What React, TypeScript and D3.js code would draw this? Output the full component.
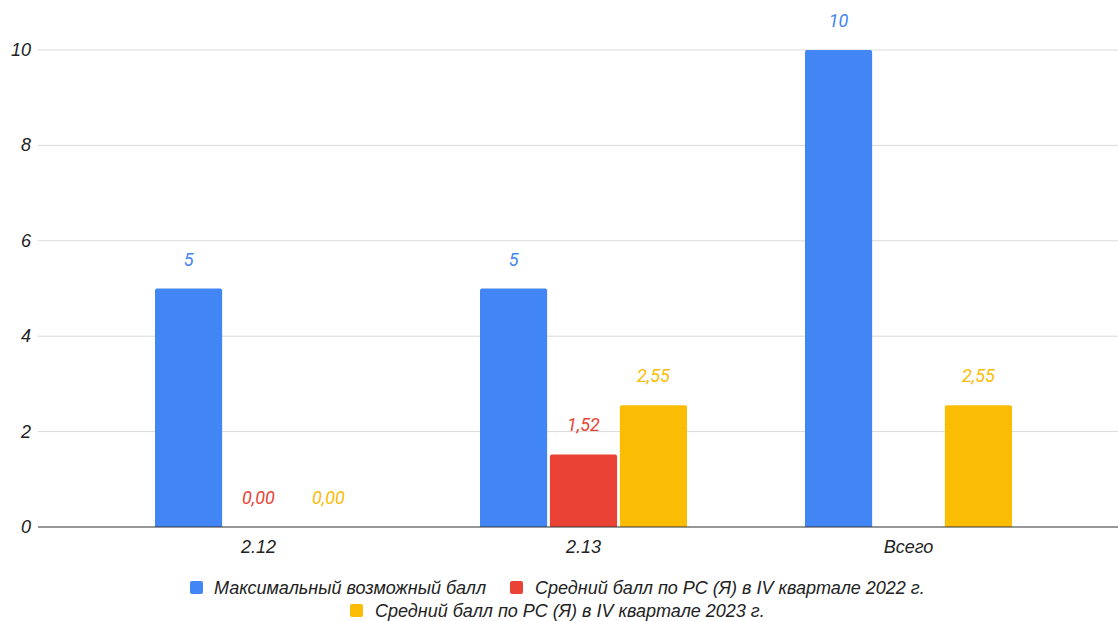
import React from "react";
import * as d3 from "d3";

const categories = ["2.12", "2.13", "Всего"];
const seriesNames = [
  "Максимальный возможный балл",
  "Средний балл по РС (Я) в IV квартале 2022 г.",
  "Средний балл по РС (Я) в IV квартале 2023 г.",
];
const maxScore = [5, 5, 10];
const avg2022: (number | null)[] = [0, 1.52, null];
const avg2023: (number | null)[] = [0, 2.55, 2.55];
const labels2022 = ["0,00", "1,52", ""];
const labels2023 = ["0,00", "2,55", "2,55"];
const labelsMax = ["5", "5", "10"];
const yTicks = [0, 2, 4, 6, 8, 10];
const colors = ["#4285F4", "#EA4335", "#FBBC04"];

const W = 1118;
const H = 621;
const FONT = "Roboto, 'Noto Sans', sans-serif";
const FONT2 = "'Liberation Sans', Arial, sans-serif";
const FS = 18;

export default function App() {
  const y = d3.scaleLinear().domain([0, 10]).range([527, 50]);
  const x0 = d3.scaleBand<string>().domain(categories).range([96, 1071]).padding(0);
  const x1 = d3
    .scaleBand<number>()
    .domain([0, 1, 2])
    .range([59, 266])
    .paddingInner(0.04)
    .paddingOuter(0);
  const series = [maxScore, avg2022, avg2023];
  const seriesLabels = [labelsMax, labels2022, labels2023];

  const barPath = (x: number, w: number, y0: number, y1: number, r: number) => {
    const h = y1 - y0;
    const rr = Math.min(r, h, w / 2);
    if (h <= 0) return "";
    return `M${x},${y1}V${y0 + rr}Q${x},${y0} ${x + rr},${y0}H${x + w - rr}Q${x + w},${y0} ${x + w},${y0 + rr}V${y1}Z`;
  };

  return (
    <svg width={W} height={H} style={{ display: "block", position: "absolute", left: 0, top: 0, background: "#fff" }}>
      <rect width={W} height={H} fill="#fff" />
      {yTicks.map((t) => (
        <g key={t}>
          {t !== 0 && <line x1={38} x2={1118} y1={y(t)} y2={y(t)} stroke="#d9d9d9" strokeWidth={1} />}
          <text x={31} y={y(t) + 6} textAnchor="end" fontFamily={FONT2} fontStyle="italic" fontSize={FS} fill="#222">
            {t}
          </text>
        </g>
      ))}
      {categories.map((c, ci) => (
        <g key={c} transform={`translate(${x0(c)},0)`}>
          {series.map((s, si) => {
            const v = s[ci];
            if (v === null || v === undefined) return null;
            const bx = x1(si)!;
            const bw = x1.bandwidth();
            return (
              <g key={si}>
                {v > 0 && <path d={barPath(bx, bw, y(v), y(0), 2)} fill={colors[si]} />}
                {seriesLabels[si][ci] !== "" && (
                  <text
                    x={bx + bw / 2}
                    y={y(v) - 23}
                    textAnchor="middle"
                    fontFamily={FONT}
                    fontStyle="italic"
                    fontSize={FS}
                    fill={colors[si]}
                  >
                    {seriesLabels[si][ci]}
                  </text>
                )}
              </g>
            );
          })}
          <text
            x={x1(1)! + x1.bandwidth() / 2}
            y={553}
            textAnchor="middle"
            fontFamily={FONT2}
            fontStyle="italic"
            fontSize={FS}
            fill="#222"
          >
            {c}
          </text>
        </g>
      ))}
      <line x1={38} x2={1118} y1={y(0)} y2={y(0)} stroke="#333" strokeWidth={1} />
      <g fontFamily={FONT2} fontStyle="italic" fontSize={FS} fill="#222">
        <rect x={190} y={581} width={13} height={13} rx={2} fill={colors[0]} />
        <text x={214} y={594}>{seriesNames[0]}</text>
        <rect x={510} y={581} width={13} height={13} rx={2} fill={colors[1]} />
        <text x={535} y={594}>{seriesNames[1]}</text>
        <rect x={350} y={604} width={13} height={13} rx={2} fill={colors[2]} />
        <text x={375} y={617}>{seriesNames[2]}</text>
      </g>
    </svg>
  );
}
